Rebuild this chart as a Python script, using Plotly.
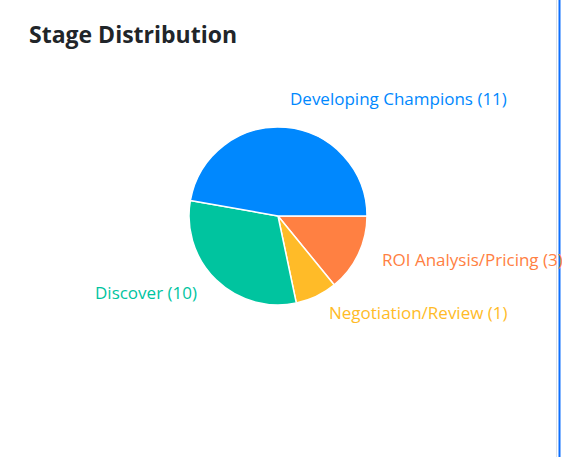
import math
import plotly.graph_objects as go

stages = ["Developing Champions", "Discover", "Negotiation/Review", "ROI Analysis/Pricing"]
counts = [11, 10, 1, 3]
values = [47.2, 31.1, 7.6, 14.1]
colors = ["#0088FE", "#00C49F", "#FFBB28", "#FF8042"]

W, H = 562, 457
labels_text = [f"{s} ({c})" for s, c in zip(stages, counts)]

# pie geometry (pixels)
CX, CY, R = 278, 216, 89
LABEL_R = R + 24

# reversed order + clockwise so the first stage starts at 3 o'clock going counter-clockwise
fig = go.Figure(go.Pie(
    labels=stages[::-1],
    values=values[::-1],
    textinfo="none",
    sort=False,
    direction="clockwise",
    rotation=90,
    marker=dict(colors=colors[::-1], line=dict(color="white", width=1.5)),
    domain=dict(x=[(CX - R) / W, (CX + R) / W], y=[(H - CY - R) / H, (H - CY + R) / H]),
    hoverinfo="label+value",
    showlegend=False,
))

# outside labels placed at each slice's mid-angle (counter-clockwise from 3 o'clock)
total = sum(values)
start = 0.0
for txt, v, col in zip(labels_text, values, colors):
    span = 360.0 * v / total
    mid = math.radians(start + span / 2)
    start += span
    px = CX + LABEL_R * math.cos(mid)
    py = CY - LABEL_R * math.sin(mid)
    fig.add_annotation(text=txt, xref="paper", yref="paper",
                       x=px / W, y=1 - py / H, yshift=5,
                       xanchor="left" if px > CX else "right", yanchor="middle",
                       showarrow=False,
                       font=dict(family="Open Sans", size=17, color=col))

fig.add_annotation(text="<b>Stage Distribution</b>", xref="paper", yref="paper",
                   x=27/W, y=1-16/H, xanchor="left", yanchor="top", showarrow=False,
                   font=dict(family="Open Sans", size=23, color="#212529"))

fig.add_shape(type="line", xref="paper", yref="paper", x0=556.5/W, x1=556.5/W, y0=0, y1=1,
              line=dict(color="#dee2e6", width=1))
fig.add_shape(type="line", xref="paper", yref="paper", x0=559.5/W, x1=559.5/W, y0=0, y1=1,
              line=dict(color="#0d6efd", width=2))

fig.update_layout(width=W, height=H, margin=dict(l=0, r=0, t=0, b=0),
                  paper_bgcolor="white", plot_bgcolor="white")
fig.write_html("out.html", config={"displayModeBar": False},
               post_script="document.body.style.margin='0';")
